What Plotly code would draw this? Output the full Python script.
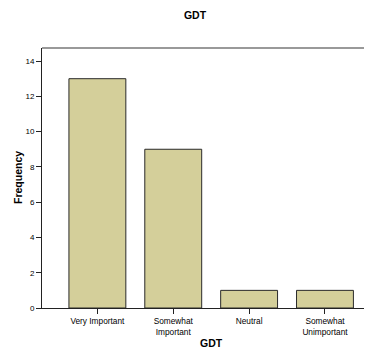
import plotly.graph_objects as go

categories = ["Very Important", "Somewhat<br>Important", "Neutral", "Somewhat<br>Unimportant"]
frequency = [13, 9, 1, 1]
y_ticks = [0, 2, 4, 6, 8, 10, 12, 14]

# the page body has an 8px default margin; the figure is sized to fill the rest
W, H = 364, 341
L, T, B = 34, 40, 41
PW, PH = W - L, H - T - B

fig = go.Figure(
    go.Bar(
        x=categories,
        y=frequency,
        width=0.75,
        marker=dict(color="#D4CF9A", line=dict(color="#2a2a2a", width=1)),
    )
)

fig.update_layout(
    width=W,
    height=H,
    margin=dict(l=L, r=0, t=T, b=B, autoexpand=False),
    paper_bgcolor="white",
    plot_bgcolor="white",
    font=dict(family="Liberation Sans, Arial, sans-serif", color="#000000"),
    showlegend=False,
    title=dict(text="<b>GDT</b>", x=187 / W, xanchor="center", y=1 - 7 / H, yanchor="middle",
               font=dict(size=10.5)),
    shapes=[dict(type="line", xref="paper", yref="paper", x0=0, x1=1, y0=1, y1=1,
                 line=dict(color="#777777", width=1.5))],
    annotations=[
        dict(text="<b>GDT</b>", xref="paper", yref="paper", x=(203 - L) / PW, y=-35 / PH,
             xanchor="center", yanchor="middle", showarrow=False, font=dict(size=10.5)),
        dict(text="<b>Frequency</b>", xref="paper", yref="paper", x=(10 - L) / PW, y=0.5,
             xanchor="center", yanchor="middle", textangle=-90, showarrow=False,
             font=dict(size=10.5)),
    ],
)

fig.update_xaxes(
    type="category",
    range=[-0.73, 3.62],
    automargin=False,
    showline=True, linecolor="#222222", linewidth=1,
    ticks="outside", ticklen=5, tickcolor="#222222",
    tickfont=dict(size=8.3),
    showgrid=False, zeroline=False,
)
fig.update_yaxes(
    range=[0, 14.74],
    automargin=False,
    tickvals=y_ticks,
    showline=True, linecolor="#222222", linewidth=1,
    ticks="outside", ticklen=5, tickcolor="#222222",
    tickfont=dict(size=8),
    showgrid=False, zeroline=False,
)

fig.write_html("out.html")
